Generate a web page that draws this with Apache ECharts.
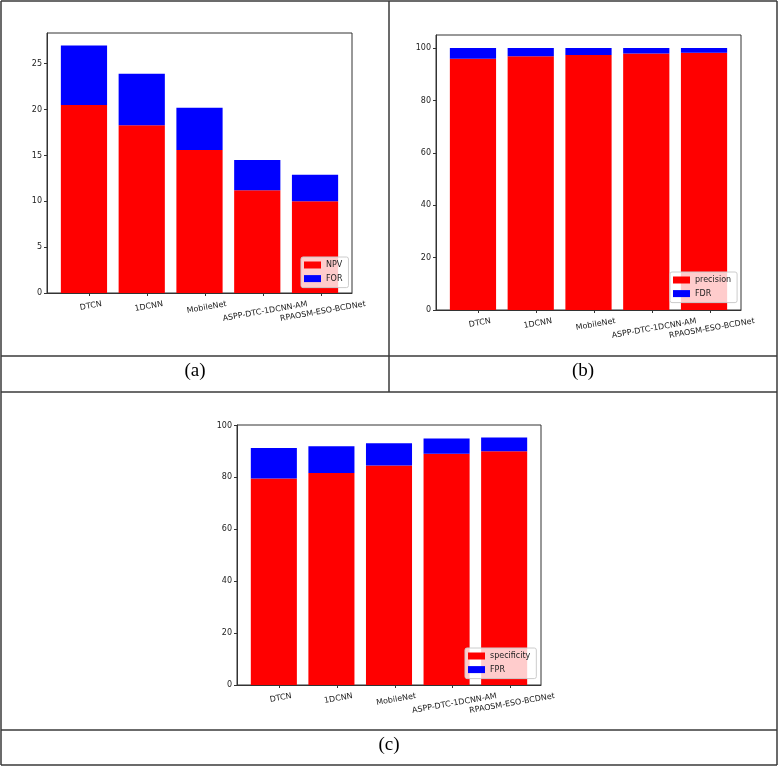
<!DOCTYPE html>
<html>
<head>
<meta charset="utf-8">
<title>NPV / precision / specificity</title>
<script src="https://cdn.jsdelivr.net/npm/echarts@6/dist/echarts.min.js"></script>
<style>
  html, body { margin: 0; padding: 0; background: #fff; }
  #chart { width: 778px; height: 766px; }
</style>
</head>
<body>
<div id="chart"></div>
<script>
// data
const categories = ['DTCN', '1DCNN', 'MobileNet', 'ASPP-DTC-1DCNN-AM', 'RPAOSM-ESO-BCDNet'];

const npv = [20.5, 18.3, 15.6, 11.2, 10.0];
const forRate = [6.5, 5.6, 4.6, 3.3, 2.9];

const precision = [95.9, 96.9, 97.4, 97.9, 98.2];
const fdr = [4.1, 3.1, 2.6, 2.1, 1.8];

const specificity = [79.6, 81.7, 84.6, 89.1, 90.1];
const fpr = [11.7, 10.3, 8.6, 5.9, 5.3];

const yTicksA = [0, 5, 10, 15, 20, 25];
const yTicksB = [0, 20, 40, 60, 80, 100];
const yTicksC = [0, 20, 40, 60, 80, 100];

const captions = ['(a)', '(b)', '(c)'];

// layout of the three matplotlib panels (pixels)
const panels = [
  { left: 47, top: 33, width: 305, height: 260, yMax: 28.35, ticks: yTicksA,
    names: ['NPV', 'FOR'], values: [npv, forRate], legend: { left: 301, top: 257 } },
  { left: 436, top: 35, width: 305, height: 275, yMax: 105, ticks: yTicksB,
    names: ['precision', 'FDR'], values: [precision, fdr], legend: { left: 670, top: 272 } },
  { left: 237, top: 425, width: 304, height: 260, yMax: 100.2, ticks: yTicksC,
    names: ['specificity', 'FPR'], values: [specificity, fpr], legend: { left: 465, top: 648 } }
];

const FONT = '"DejaVu Sans", sans-serif';
const RED = '#ff0000';
const BLUE = '#0000ff';
const X_MIN = -0.64, X_MAX = 4.64;   // matplotlib default margins around 5 bars of width 0.8
const TICK_SHIFT = 0.1;             // the x ticks sit a little right of the bar centres
const ROT = 10;
const LABEL_LH = 9.4;

// rotated matplotlib labels are aligned by their bounding box top,
// so longer labels sit lower; mimic that with per-label padding
const measureCtx = document.createElement('canvas').getContext('2d');
measureCtx.font = '8px "DejaVu Sans"';
const labelRich = {};
categories.forEach((c, i) => {
  const w = measureCtx.measureText(c).width;
  const r = ROT * Math.PI / 180;
  const boxH = w * Math.sin(r) + LABEL_LH * Math.cos(r);
  labelRich['l' + i] = {
    fontSize: 8, fontFamily: FONT, color: '#222',
    lineHeight: LABEL_LH, padding: [boxH, 0, 0, 0]
  };
});

const grid = [], xAxis = [], yAxis = [], series = [], legend = [];
const hiddenY = (g, max) => ({ type: 'value', gridIndex: g, show: false, min: 0, max: max });

panels.forEach((p, k) => {
  const unit = p.width / (X_MAX - X_MIN);
  const g0 = 3 * k, g1 = 3 * k + 1, g2 = 3 * k + 2;

  // frame: border, left axis with ticks
  grid.push({
    left: p.left, top: p.top, width: p.width, height: p.height,
    show: true, borderColor: '#333', borderWidth: 1, backgroundColor: '#fff'
  });
  // bars: one category band per unit of the matplotlib x range
  grid.push({
    left: p.left + (-X_MIN - 0.5) * unit, top: p.top, width: 5 * unit, height: p.height
  });
  // tick marks and labels, shifted a bit right of the bars
  grid.push({
    left: p.left + (-X_MIN + TICK_SHIFT - 0.5) * unit, top: p.top, width: 5 * unit, height: p.height
  });

  xAxis.push({
    type: 'value', gridIndex: g0, min: 0, max: 1,
    axisLine: { show: true, onZero: false, lineStyle: { color: '#333', width: 1 } },
    axisTick: { show: false }, axisLabel: { show: false }, splitLine: { show: false }
  });
  xAxis.push({ type: 'category', gridIndex: g1, data: categories, show: false });
  xAxis.push({
    type: 'category', gridIndex: g2, data: categories, boundaryGap: true,
    axisLine: { show: false },
    axisTick: { show: true, alignWithLabel: true, length: 3, lineStyle: { color: '#333' } },
    axisLabel: {
      interval: 0, rotate: ROT, align: 'center', verticalAlign: 'middle',
      margin: 6.5, hideOverlap: false,
      formatter: (v, i) => '{l' + i + '|' + v + '}',
      rich: labelRich
    },
    splitLine: { show: false }
  });

  yAxis.push({
    type: 'value', gridIndex: g0, min: 0, max: p.yMax,
    axisLine: { show: true, onZero: false, lineStyle: { color: '#333', width: 1 } },
    axisTick: { show: true, length: 3, customValues: p.ticks, lineStyle: { color: '#333' } },
    axisLabel: { customValues: p.ticks, fontSize: 8, fontFamily: FONT, color: '#222', margin: 5 },
    splitLine: { show: false }
  });
  yAxis.push(hiddenY(g1, p.yMax));
  yAxis.push(hiddenY(g2, p.yMax));

  p.names.forEach((name, j) => {
    series.push({
      name: name, type: 'bar', stack: 'p' + k,
      xAxisIndex: g1, yAxisIndex: g1,
      barWidth: '80%',
      itemStyle: { color: j === 0 ? RED : BLUE },
      data: p.values[j]
    });
  });

  legend.push({
    data: p.names, orient: 'vertical', left: p.legend.left, top: p.legend.top,
    icon: 'rect', itemWidth: 17, itemHeight: 7, itemGap: 5.6,
    padding: [4, 6, 5, 3],
    backgroundColor: 'rgba(255,255,255,0.8)', borderColor: '#ccc', borderWidth: 1, borderRadius: 2,
    textStyle: { fontSize: 8, fontFamily: FONT, color: '#222', lineHeight: 8 },
    selectedMode: false
  });
});

// table rules and captions around the three panels
const LINE = { stroke: '#3a3a3a', lineWidth: 1.5 };
const rules = [
  [1, 1, 777, 1], [1, 765, 777, 765], [1, 1, 1, 765], [777, 1, 777, 765],
  [389, 1, 389, 392], [1, 356, 777, 356], [1, 392, 777, 392], [1, 730, 777, 730]
];
const captionPos = [[195, 371], [583, 371], [389, 745]];
const graphic = rules.map(r => ({
  type: 'line', silent: true, z: 100,
  shape: { x1: r[0], y1: r[1], x2: r[2], y2: r[3] }, style: LINE
})).concat(captions.map((c, i) => ({
  type: 'text', silent: true, x: captionPos[i][0], y: captionPos[i][1],
  style: { text: c, font: '19px "Liberation Serif"', fill: '#000', align: 'center', verticalAlign: 'middle' }
})));

const chart = echarts.init(document.getElementById('chart'), null, { renderer: 'canvas' });
chart.setOption({
  animation: false,
  backgroundColor: '#fff',
  grid: grid,
  xAxis: xAxis,
  yAxis: yAxis,
  legend: legend,
  series: series,
  graphic: graphic
});
</script>
</body>
</html>
